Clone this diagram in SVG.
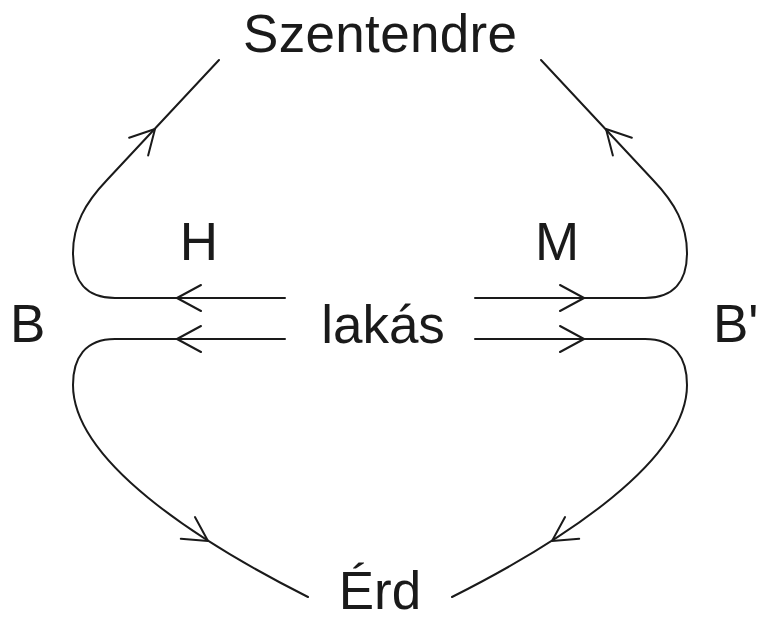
<svg xmlns="http://www.w3.org/2000/svg" width="761" height="621" viewBox="0 0 761 621">
<style>
.lbl{font-family:"Liberation Sans",Arial,sans-serif;font-size:53px;fill:#1a1a1a}
.c{text-anchor:middle}
.ln{fill:none;stroke:#1a1a1a;stroke-width:2;stroke-linecap:round;stroke-linejoin:round}
</style>
<defs>
<path id="ah" d="M-24,-13 L0,0 L-24,13" class="ln"/>
</defs>
<rect width="761" height="621" fill="#ffffff"/>
<g id="szentendre"><text class="lbl c" x="380" y="52" textLength="274" lengthAdjust="spacing">Szentendre</text></g>
<g id="H"><text class="lbl c" x="199" y="260">H</text></g>
<g id="M"><text class="lbl c" x="557" y="260">M</text></g>
<g id="B"><text class="lbl" x="10" y="342">B</text></g>
<g id="Bprime"><text class="lbl" x="713" y="342">B'</text></g>
<g id="lakas"><text class="lbl c" x="383" y="343">lakás</text></g>
<g id="erd"><text class="lbl c" x="380" y="609">Érd</text></g>
<g id="connectors">
<path class="ln" d="M285,298 H115 C85,298 73,280 73,253 C73,225 85,203 107,180 L219,60"/>
<path class="ln" d="M475,298 H645 C675,298 687,280 687,253 C687,225 675,203 653,180 L541,60"/>
<path class="ln" d="M285,339 H115 C85,339 73,358 73,385 C73,460 195,540 308,597"/>
<path class="ln" d="M475,339 H645 C675,339 687,358 687,385 C687,460 565,540 452,597"/>
<use href="#ah" transform="translate(177,298) rotate(180)"/>
<use href="#ah" transform="translate(177,339) rotate(180)"/>
<use href="#ah" transform="translate(584,298)"/>
<use href="#ah" transform="translate(584,339)"/>
<use href="#ah" transform="translate(155,129) rotate(-47)"/>
<use href="#ah" transform="translate(606,129) rotate(-133)"/>
<use href="#ah" transform="translate(208,541) rotate(33)"/>
<use href="#ah" transform="translate(552,541) rotate(147)"/>
</g>
</svg>
